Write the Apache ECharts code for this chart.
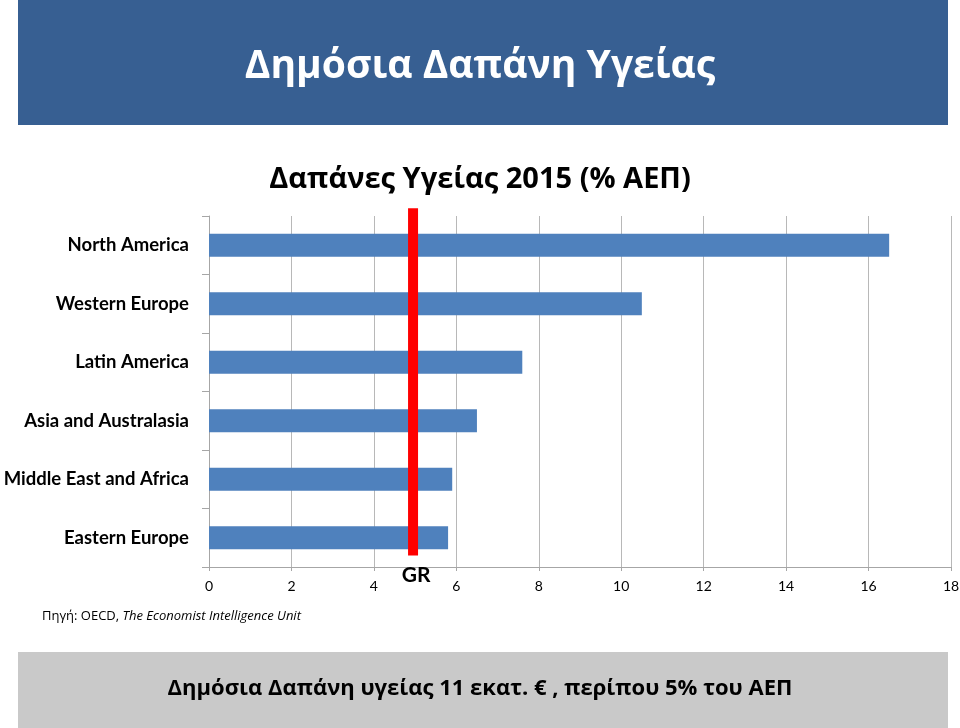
<!DOCTYPE html>
<html>
<head>
<meta charset="utf-8">
<script src="https://cdn.jsdelivr.net/npm/echarts@6/dist/echarts.min.js"></script>
<style>
html,body{margin:0;padding:0;background:#fff;}
#c{width:960px;height:728px;}
</style>
</head>
<body>
<div id="c"></div>
<script>
const categories = ['North America','Western Europe','Latin America','Asia and Australasia','Middle East and Africa','Eastern Europe'];
const values = [16.5, 10.5, 7.6, 6.5, 5.9, 5.8];
const xTicks = [0,2,4,6,8,10,12,14,16,18];
const greeceValue = 4.95;
const greeceLabel = 'GR';
const headerText = 'Δημόσια Δαπάνη Υγείας';
const chartTitle = 'Δαπάνες Υγείας 2015 (% ΑΕΠ)';
const footerText = 'Δημόσια Δαπάνη υγείας 11 εκατ. € , περίπου 5% του ΑΕΠ';

const GR_FONT = '"Open Sans", "Noto Sans", sans-serif';
const LAT_FONT = 'Lato, "Open Sans", sans-serif';
const chart = echarts.init(document.getElementById('c'));
const axisGray = '#a6a6a6';

chart.setOption({
  animation: false,
  backgroundColor: '#ffffff',
  title: {
    text: chartTitle,
    left: 'center',
    top: 160,
    textStyle: {fontFamily: GR_FONT, fontWeight: 'bold', fontSize: 29, color: '#000'}
  },
  grid: {left: 209, right: 9, top: 216, bottom: 161, containLabel: false, outerBoundsMode: 'none'},
  xAxis: [{
    type: 'value', min: xTicks[0], max: xTicks[xTicks.length-1], interval: 2,
    axisLine: {show: true, lineStyle: {color: axisGray, width: 1}},
    axisTick: {show: true, length: 4, lineStyle: {color: axisGray}},
    splitLine: {show: true, lineStyle: {color: '#b8b8b8', width: 1}},
    axisLabel: {margin: 12, fontFamily: LAT_FONT, fontSize: 14, color: '#000'}
  }],
  yAxis: [{
    type: 'category', data: categories, inverse: true,
    axisLine: {show: true, lineStyle: {color: axisGray, width: 1}},
    axisTick: {show: true, length: 7, lineStyle: {color: axisGray}},
    axisLabel: {margin: 20, fontFamily: LAT_FONT, fontWeight: 'bold', fontSize: 18.5, color: '#000'}
  }, {
    type: 'value', min: 0, max: 1, show: false
  }],
  series: [{
    type: 'bar', data: values, barWidth: 23, yAxisIndex: 0,
    itemStyle: {color: '#4f81bd'}, z: 2
  }, {
    type: 'line', yAxisIndex: 1, clip: false, symbol: 'none', z: 5,
    data: [[greeceValue, 0.033], [greeceValue, 1.022]],
    lineStyle: {color: '#ff0000', width: 10, cap: 'butt'},
    silent: true
  }, {
    type: 'scatter', yAxisIndex: 1, clip: false, symbolSize: 1, z: 6,
    itemStyle: {color: '#ffffff', opacity: 0},
    data: [[greeceValue, -0.054]],
    label: {show: true, position: 'top', distance: 0, formatter: greeceLabel, fontFamily: LAT_FONT, fontWeight: 'bold', fontSize: 21, color: '#000000', opacity: 1, offset: [3, 0]},
    silent: true
  }],
  graphic: [
    {type: 'rect', left: 18, top: 0, shape: {width: 930, height: 125}, style: {fill: '#375f92'}, z: -1},
    {type: 'text', left: 'center', top: 47, style: {text: headerText, fontFamily: GR_FONT, fontWeight: 'bold', fontSize: 39, fill: '#ffffff'}},
    {type: 'rect', left: 18, top: 652, shape: {width: 930, height: 76}, style: {fill: '#c9c9c9'}, z: -1},
    {type: 'text', left: 'center', top: 678, style: {text: footerText, fontFamily: GR_FONT, fontWeight: 'bold', fontSize: 22, fill: '#000'}},
    {type: 'text', left: 42, top: 610, style: {rich: {a: {fontFamily: GR_FONT, fontSize: 13, fill: '#000'}, b: {fontFamily: GR_FONT, fontSize: 13, fontStyle: 'italic', fill: '#000'}}, text: '{a|Πηγή: OECD, }{b|The Economist Intelligence Unit}'}}
  ]
});
</script>
</body>
</html>
